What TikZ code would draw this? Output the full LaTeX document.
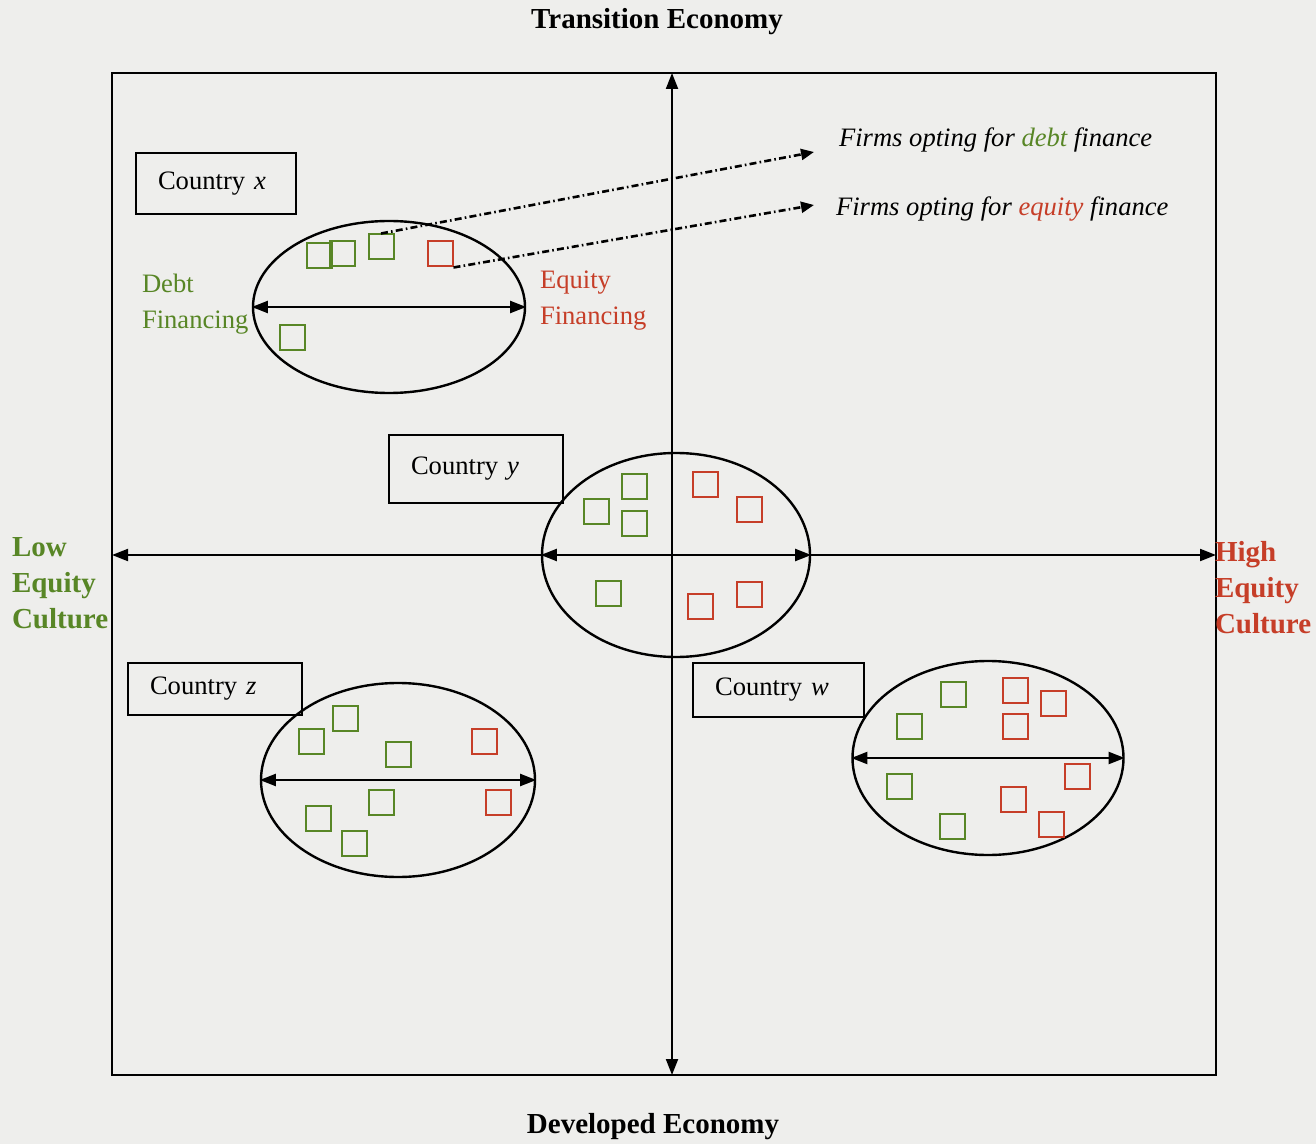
\documentclass[tikz,border=0pt]{standalone}
\usepackage{fontspec}
\setmainfont{Liberation Serif}
\usetikzlibrary{arrows.meta,shapes.geometric}
\definecolor{debtgreen}{RGB}{88,134,38}
\definecolor{equityred}{RGB}{198,62,40}
\definecolor{paper}{RGB}{238,238,236}
\tikzset{every picture/.style={line width=1pt}}
\tikzset{
  sqbox/.style={draw, minimum size=12.5pt, inner sep=0pt},
  gsq/.style={sqbox, debtgreen},
  rsq/.style={sqbox, equityred},
  bubble/.style={ellipse, draw, inner sep=0pt, line width=1.2pt},
  countrybox/.style={draw, anchor=north west, inner xsep=11pt, align=left, font=\fontsize{13.3}{16}\selectfont},
  axisline/.style={-{Triangle[length=8pt,width=6pt]}},
  spanarrow/.style={{Triangle[length=8pt,width=6pt]}-{Triangle[length=8pt,width=6pt]}},
  optline/.style={line width=1.3pt, dash pattern=on 3.5pt off 1.6pt on 0.8pt off 1.6pt, -{Triangle[length=6.5pt,width=5.5pt]}},
  axislabel/.style={font=\fontsize{14.5}{18}\selectfont\bfseries},
  finlabel/.style={anchor=west, align=left, inner sep=0pt, font=\fontsize{13.3}{18}\selectfont},
  firmlabel/.style={anchor=west, inner sep=0pt, font=\fontsize{13.3}{16}\selectfont\itshape}
}

\begin{document}
\begin{tikzpicture}[x=0.5pt,y=0.5pt,yscale=-1,xscale=1]
\useasboundingbox (0,0) rectangle (1316,1144);
\fill[paper] (0,0) rectangle (1316,1144);

%Frame
\coordinate (fnw) at (112,73);
\coordinate (fse) at (1216,1075);
\draw (fnw) rectangle (fse);
\coordinate (up) at (672,73);
\coordinate (dn) at (672,1075);
\coordinate (lf) at (112,555);
\coordinate (rt) at (1216,555);

%Shape: Ellipse x
\node[bubble, minimum width=136pt, minimum height=86pt] (ex) at (389,307) {};
%Shape: Ellipse y
\node[bubble, minimum width=134pt, minimum height=102pt] (ey) at (676,555) {};
%Shape: Ellipse z
\node[bubble, minimum width=137pt, minimum height=97pt] (ez) at (398,780) {};
%Shape: Ellipse w
\node[bubble, minimum width=135.5pt, minimum height=97pt] (ew) at (988,758) {};

%Straight Lines
\draw[spanarrow] (dn) -- (up);
\draw[axisline] (ey.west) -- (lf);
\draw[axisline] (ey.east) -- (rt);
\draw[spanarrow] (ex.west) -- (ex.east);
\draw[spanarrow] (ey.west) -- (ey.east);
\draw[spanarrow] (ez.west) -- (ez.east);
\draw[spanarrow] (ew.west) -- (ew.east);

%Shape: Square (country x)
\node[gsq] (gx1) at (319,256) {};
\node[gsq] (gx2) at (342,254) {};
\node[gsq] (gx3) at (381,247) {};
\node[gsq] (gx4) at (292,338) {};
\node[rsq] (rx1) at (440,254) {};
%Shape: Square (country y)
\node[gsq] (gy1) at (596,511) {};
\node[gsq] (gy2) at (634,486) {};
\node[gsq] (gy3) at (634,523) {};
\node[gsq] (gy4) at (608,593) {};
\node[rsq] (ry1) at (705,484) {};
\node[rsq] (ry2) at (749,509) {};
\node[rsq] (ry3) at (700,606) {};
\node[rsq] (ry4) at (749,594) {};
%Shape: Square (country z)
\node[gsq] (gz1) at (311,741) {};
\node[gsq] (gz2) at (345,718) {};
\node[gsq] (gz3) at (398,754) {};
\node[gsq] (gz4) at (381,802) {};
\node[gsq] (gz5) at (318,818) {};
\node[gsq] (gz6) at (354,843) {};
\node[rsq] (rz1) at (484,741) {};
\node[rsq] (rz2) at (498,802) {};
%Shape: Square (country w)
\node[gsq] (gw1) at (953,694) {};
\node[gsq] (gw2) at (909,726) {};
\node[gsq] (gw3) at (899,786) {};
\node[gsq] (gw4) at (952,826) {};
\node[rsq] (rw1) at (1015,690) {};
\node[rsq] (rw2) at (1053,703) {};
\node[rsq] (rw3) at (1015,726) {};
\node[rsq] (rw4) at (1077,776) {};
\node[rsq] (rw5) at (1013,799) {};
\node[rsq] (rw6) at (1051,824) {};

% Text Node
\node[countrybox, text width=58pt, minimum height=30.5pt] (cx) at (135,152) {Country \textit{x}};
% Text Node
\node[countrybox, text width=65pt, minimum height=34pt] (cy) at (388,434) {Country \textit{y}};
% Text Node
\node[countrybox, text width=65pt, minimum height=26pt] (cz) at (127,662) {Country \textit{z}};
% Text Node
\node[countrybox, text width=63.5pt, minimum height=27pt] (cw) at (692,662) {Country \textit{w}};

% Text Node
\node[axislabel] (te) at (657,22) {Transition Economy};
% Text Node
\node[axislabel] (de) at (653,1127) {Developed Economy};
% Text Node
\node[axislabel, anchor=west, align=left, inner sep=0pt, debtgreen] (lec) at (11,583) {Low\\Equity\\Culture};
% Text Node
\node[axislabel, anchor=west, align=left, inner sep=0pt, equityred] (hec) at (1214,588) {High\\Equity\\Culture};
% Text Node
\node[finlabel, debtgreen] (dfin) at (141,304) {Debt\\Financing};
% Text Node
\node[finlabel, equityred] (efin) at (539,301) {Equity\\Financing};

% Text Node
\node[firmlabel] (fd) at (838,140) {Firms opting for \textcolor{debtgreen}{debt} finance};
% Text Node
\node[firmlabel] (fe) at (835,209) {Firms opting for \textcolor{equityred}{equity} finance};
\coordinate (dt) at (814,152);
\coordinate (et) at (814,205);

%Dash-dot Lines
\draw[optline] (gx3.north) -- (dt);
\draw[optline] (rx1.south east) -- (et);

\end{tikzpicture}
\end{document}
